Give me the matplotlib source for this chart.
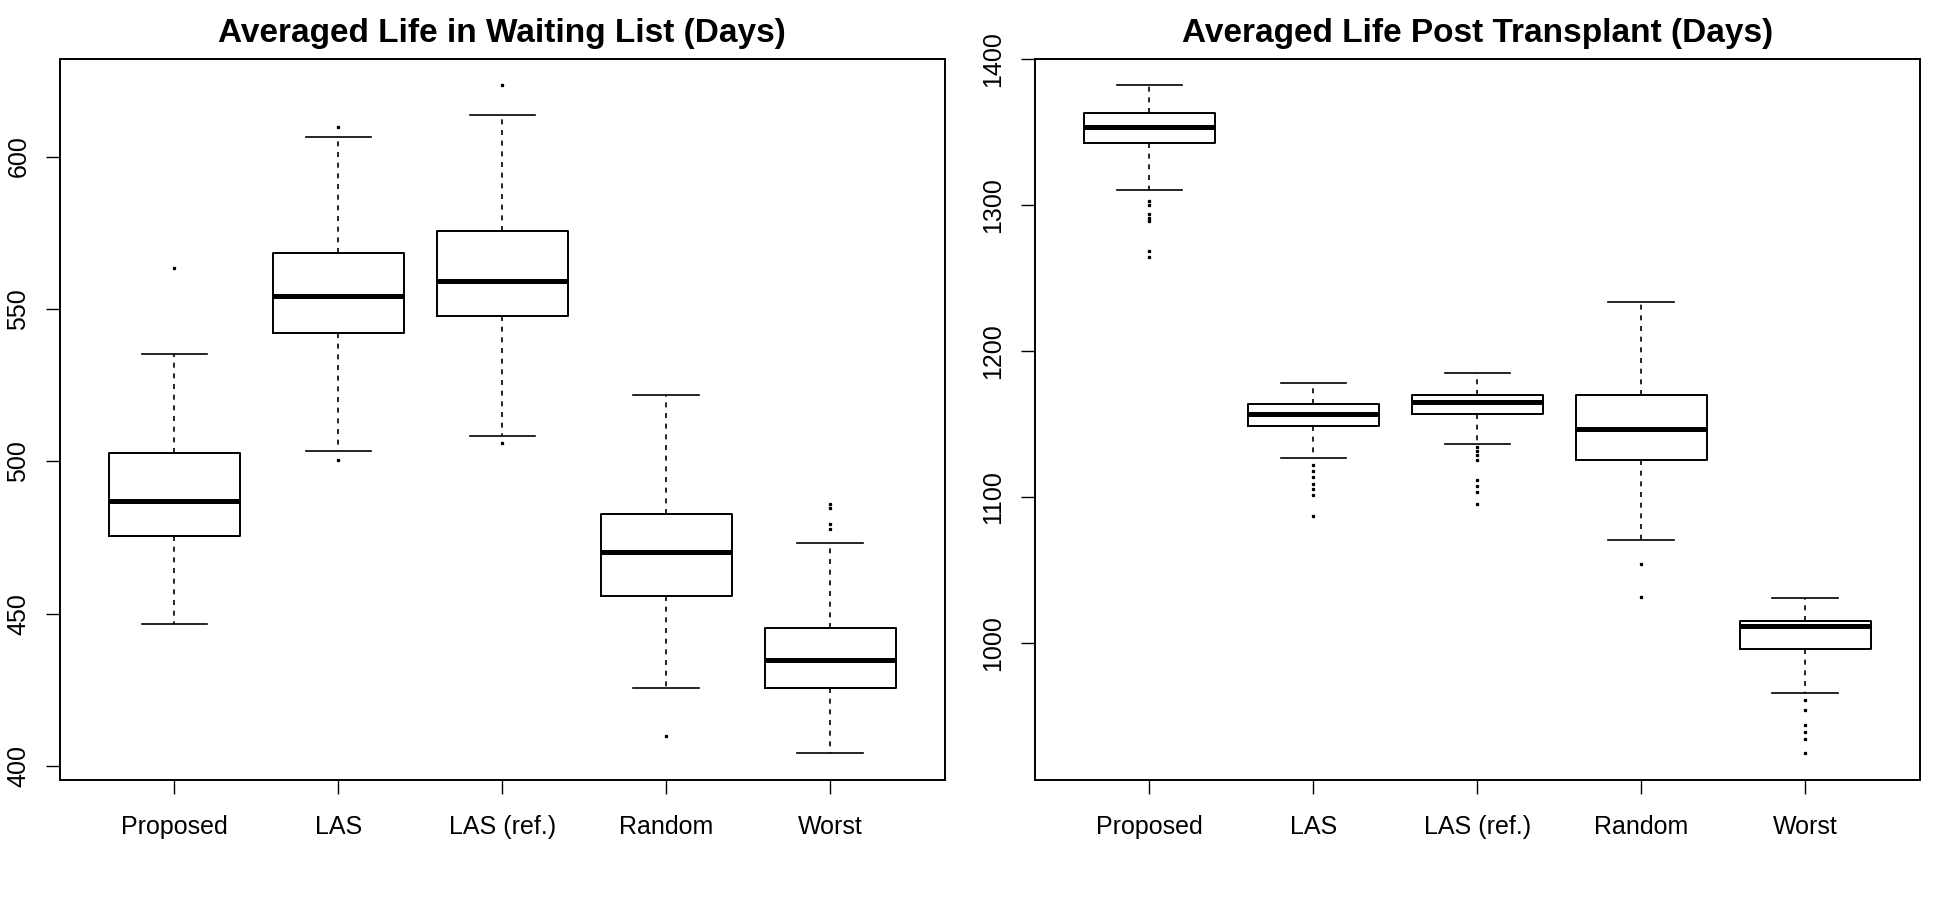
import matplotlib
matplotlib.use("Agg")
import matplotlib.pyplot as plt

plt.rcParams['font.family'] = ['Liberation Sans', 'DejaVu Sans']

categories = ["Proposed", "LAS", "LAS (ref.)", "Random", "Worst"]

# Left panel: Averaged Life in Waiting List (Days)
wait_whislo = [446.7, 503.4, 508.4, 425.6, 404.2]
wait_q1     = [475.5, 542.1, 547.8, 455.7, 425.6]
wait_med    = [487.0, 554.3, 559.3, 470.3, 434.8]
wait_q3     = [502.6, 568.2, 575.6, 482.8, 445.2]
wait_whishi = [535.1, 606.5, 613.5, 521.9, 473.1]
wait_fliers = [[563.4], [609.8, 500.3], [623.4, 506.1], [409.8],
               [486.0, 484.8, 479.3, 477.8]]

# Right panel: Averaged Life Post Transplant (Days)
post_whislo = [1310.4, 1126.9, 1136.6, 1070.6, 966.0]
post_q1     = [1342.1, 1148.9, 1156.6, 1125.6, 995.8]
post_med    = [1353.1, 1156.6, 1165.0, 1146.6, 1012.0]
post_q3     = [1362.8, 1163.8, 1170.2, 1170.2, 1015.2]
post_whishi = [1381.9, 1178.3, 1185.1, 1233.7, 1030.7]
post_fliers = [[1302.6, 1300.0, 1293.5, 1291.3, 1288.7, 1268.3, 1264.4],
               [1122.0, 1117.8, 1113.9, 1109.0, 1105.2, 1101.6, 1087.0],
               [1134.0, 1131.7, 1128.5, 1125.2, 1111.6, 1107.4, 1103.2, 1095.5],
               [1054.0, 1031.4],
               [960.8, 954.4, 944.0, 939.2, 934.3, 924.6]]

wait_ticks = [400, 450, 500, 550, 600]
post_ticks = [1000, 1100, 1200, 1300, 1400]

titles = ["Averaged Life in Waiting List (Days)",
          "Averaged Life Post Transplant (Days)"]


def make_stats(lo, q1, med, q3, hi, fl):
    return [dict(whislo=lo[i], q1=q1[i], med=med[i], q3=q3[i], whishi=hi[i],
                 fliers=fl[i], label=categories[i]) for i in range(len(categories))]


fig = plt.figure(figsize=(19.5, 9), dpi=100)
axL = fig.add_axes([0.0306, 0.1333, 0.454, 0.8017])
axR = fig.add_axes([0.5306, 0.1333, 0.454, 0.8017])

panels = [
    (axL, make_stats(wait_whislo, wait_q1, wait_med, wait_q3, wait_whishi, wait_fliers),
     wait_ticks, titles[0]),
    (axR, make_stats(post_whislo, post_q1, post_med, post_q3, post_whishi, post_fliers),
     post_ticks, titles[1]),
]

for ax, stats, ticks, title in panels:
    ax.bxp(stats, positions=range(1, 6), widths=0.8, capwidths=0.4,
           boxprops=dict(color='black', linewidth=1.4),
           medianprops=dict(color='black', linewidth=3.6, solid_capstyle='butt'),
           whiskerprops=dict(color='black', linewidth=1.2, linestyle=(0, (3.0, 3.4))),
           capprops=dict(color='black', linewidth=1.2),
           flierprops=dict(marker='s', markersize=1.4, markerfacecolor='black',
                           markeredgecolor='black', linestyle='none'))
    # R-style limits: extend data range by 4%
    lo = min(min(s['whislo'] for s in stats), min(min(s['fliers']) for s in stats))
    hi = max(max(s['whishi'] for s in stats), max(max(s['fliers']) for s in stats))
    r = hi - lo
    ax.set_ylim(lo - 0.04 * r, hi + 0.04 * r)
    ax.set_xlim(0.3, 5.7)
    ax.set_yticks(ticks)
    ax.set_yticklabels([str(t) for t in ticks], rotation=90, va='center')
    ax.set_xticks(range(1, 6))
    ax.set_xticklabels(categories)
    ax.tick_params(axis='both', length=10, width=1.0, labelsize=18, color='black')
    ax.tick_params(axis='x', pad=15)
    ax.tick_params(axis='y', pad=11)
    for sp in ax.spines.values():
        sp.set_linewidth(1.4)
        sp.set_color('black')
    ax.set_title(title, fontsize=24, fontweight='bold', pad=12)

fig.savefig("out.png", dpi=100, facecolor='white')
